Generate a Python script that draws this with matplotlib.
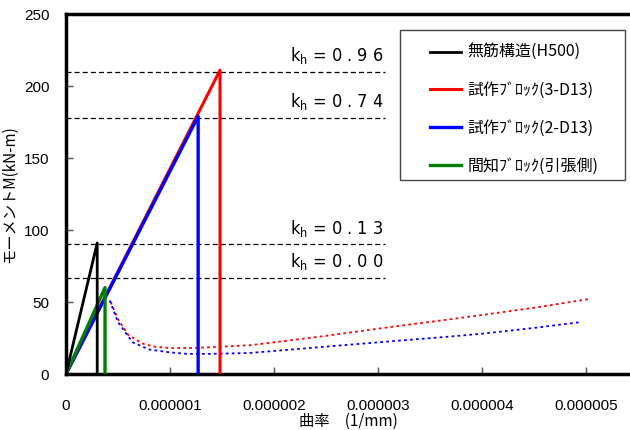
import matplotlib
matplotlib.use("Agg")
import matplotlib.pyplot as plt
from matplotlib.ticker import FixedLocator, FixedFormatter
from matplotlib.patches import Rectangle

plt.rcParams['font.family'] = ['Liberation Sans', 'Noto Sans CJK JP', 'DejaVu Sans']

# ---- data ----
black_x = [0, 0.30e-6, 0.30e-6]
black_y = [0, 91, 0]
red_x = [0, 1.48e-6, 1.48e-6]
red_y = [0, 211, 0]
blue_x = [0, 1.27e-6, 1.27e-6]
blue_y = [0, 179, 0]
green_x = [0, 0.375e-6, 0.375e-6]
green_y = [0, 60, 0]

red_dot_x = [0.43e-6, 0.5e-6, 0.6e-6, 0.74e-6, 0.85e-6, 1.0e-6, 1.2e-6, 1.5e-6,
             1.77e-6, 2.0e-6, 2.5e-6, 3.0e-6, 3.69e-6, 4.0e-6, 4.5e-6, 5.02e-6]
red_dot_y = [50, 38, 27, 21, 19, 18, 18, 19, 20, 22, 26.5, 31.5, 38, 41, 46, 52]
blue_dot_x = [0.42e-6, 0.5e-6, 0.64e-6, 0.8e-6, 1.0e-6, 1.16e-6, 1.4e-6, 1.77e-6,
              2.0e-6, 2.5e-6, 3.0e-6, 3.69e-6, 4.0e-6, 4.5e-6, 4.94e-6]
blue_dot_y = [51, 36, 22, 17, 15, 14, 14, 14.6, 16, 19, 22, 26, 28, 32, 36]

kh_values = [210, 178, 90, 67]
kh_labels = ["0 . 9 6", "0 . 7 4", "0 . 1 3", "0 . 0 0"]
kh_end = 3.07e-6

legend_labels = ["無筋構造(H500)", "試作ﾌﾞﾛｯｸ(3-D13)", "試作ﾌﾞﾛｯｸ(2-D13)", "間知ﾌﾞﾛｯｸ(引張側)"]

x_ticks = [0, 1e-6, 2e-6, 3e-6, 4e-6, 5e-6]
x_ticklabels = ["0", "0.000001", "0.000002", "0.000003", "0.000004", "0.000005"]
y_ticks = [0, 50, 100, 150, 200, 250]

# ---- figure ----
fig = plt.figure(figsize=(6.3, 4.3), dpi=100)
ax = fig.add_axes([66/630, 56/430, 1 - 66/630, (374-14)/430])
ax.set_xlim(0, 5.42e-6)
ax.set_ylim(0, 250)

for y, lab in zip(kh_values, kh_labels):
    ax.plot([0, kh_end], [y, y], color='black', lw=0.9, ls=(0, (4, 2.5)), zorder=1)
    ax.text(kh_end - 0.02e-6, y + 4, r"k$_\mathregular{h}$ = " + lab, ha='right', va='bottom',
            fontsize=13, family='DejaVu Sans', fontstretch='condensed')

ax.plot(red_dot_x, red_dot_y, color='red', lw=1.3, ls=(0, (1.5, 1.8)), zorder=2)
ax.plot(blue_dot_x, blue_dot_y, color='blue', lw=1.3, ls=(0, (1.5, 1.8)), zorder=2)

l_red, = ax.plot(red_x, red_y, color='red', lw=2.2, zorder=3)
l_blue, = ax.plot(blue_x, blue_y, color='blue', lw=2.4, zorder=4)
l_green, = ax.plot(green_x, green_y, color='green', lw=2.4, zorder=5)
l_black, = ax.plot(black_x, black_y, color='black', lw=2.0, zorder=6)

ax.xaxis.set_major_locator(FixedLocator(x_ticks))
ax.xaxis.set_major_formatter(FixedFormatter(x_ticklabels))
ax.yaxis.set_major_locator(FixedLocator(y_ticks))
ax.tick_params(direction='in', length=5, width=1, labelsize=11, color='#555555')
ax.tick_params(axis='x', pad=18)
ax.tick_params(axis='y', pad=12)

for s in ['left', 'bottom', 'top']:
    ax.spines[s].set_linewidth(2.5)
ax.spines['right'].set_visible(False)

ax.set_xlabel("曲率　(1/mm)", fontsize=11, family=['Noto Sans CJK JP', 'DejaVu Sans'], labelpad=0)
ax.set_ylabel("モーメントM(kN-m)", fontsize=11, family=['Noto Sans CJK JP', 'DejaVu Sans'], labelpad=4)

# legend frame
fig.patches.append(Rectangle((400/630, 1 - 180/430), 225/630, 150/430,
                             transform=fig.transFigure, facecolor='white',
                             edgecolor='#444444', lw=1.0, zorder=10))
leg = fig.legend([l_black, l_red, l_blue, l_green], legend_labels,
                 loc='upper left', bbox_to_anchor=(427/630, 1 - 41/430),
                 bbox_transform=fig.transFigure, frameon=False,
                 prop={'family': ['Noto Sans CJK JP', 'DejaVu Sans'], 'size': 11.5},
                 handlelength=1.9, labelspacing=1.3, borderpad=0.2, handletextpad=0.45,
                 borderaxespad=0)
leg.set_zorder(11)

fig.savefig("out.png", dpi=100)
